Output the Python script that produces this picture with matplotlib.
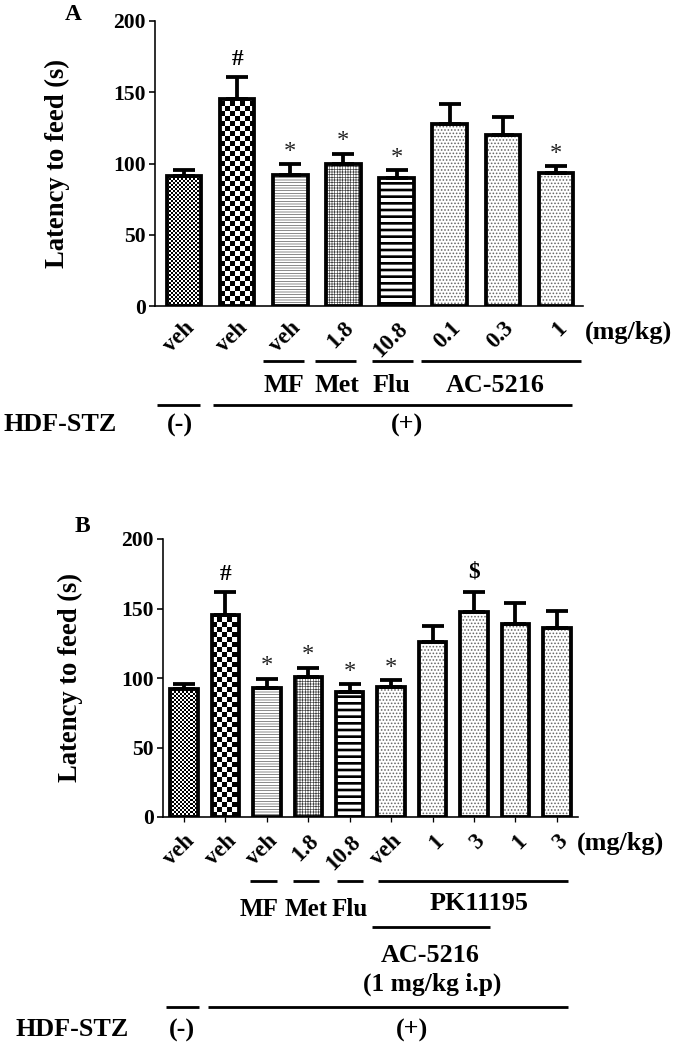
import numpy as np
import matplotlib
matplotlib.use("Agg")
import matplotlib.pyplot as plt
import matplotlib.transforms as mtransforms

# ----------------------------------------------------------
# figure is laid out in pixels (675 x 1043 at 80 dpi)
# ----------------------------------------------------------
DPI = 80
W, H = 675, 1043
PT = 72 / DPI          # points per pixel

plt.rcParams["font.family"] = ["Liberation Serif", "DejaVu Serif"]
plt.rcParams["font.weight"] = "bold"
plt.rcParams["axes.labelweight"] = "bold"

# ----------------------------------------------------------
# DATA
# ----------------------------------------------------------
labels_A = ["veh", "veh", "veh", "1.8", "10.8", "0.1", "0.3", "1"]
mean_A = [91, 145, 92, 100, 90, 128, 120, 93]
sem_A = [4.3, 16, 7.5, 6.8, 5.4, 14, 12.6, 5]
marks_A = ["", "#", "*", "*", "*", "", "", "*"]
fill_A = ["fine", "checker", "mf", "met", "flu", "dots", "dots", "dots"]

labels_B = ["veh", "veh", "veh", "1.8", "10.8", "veh", "1", "3", "1", "3"]
mean_B = [92, 145, 93, 101, 90, 93.5, 126, 147.5, 139, 136]
sem_B = [3.8, 17, 6.5, 6.3, 5.5, 5, 11.5, 14.5, 15, 12]
marks_B = ["", "#", "*", "*", "*", "*", "", "$", "", ""]
fill_B = ["fine", "checker", "mf", "met", "flu", "dots", "dots", "dots", "dots", "dots"]

# hatch pattern, hatch colour, hatch linewidth
HATCH = {
    "mf":   ("-----", "#555555", 0.6),
    "met":  ("+++++", "#444444", 0.6),
    "flu":  ("--", "black", 2.4),
    "dots": ("....", "#666666", 0.9),
}
CHECKER_PX = {"fine": 2, "checker": 5}
EDGE = 3.8 * PT


def px2fig_y(py):
    return 1 - py / H


def checker_fill(ax, patch, cell):
    x0, y0 = patch.get_x(), patch.get_y()
    w, h = patch.get_width(), patch.get_height()
    p0 = ax.transData.transform((x0, y0))
    p1 = ax.transData.transform((x0 + w, y0 + h))
    nx = int(np.ceil((p1[0] - p0[0]) / cell))
    ny = int(np.ceil((p1[1] - p0[1]) / cell))
    arr = (np.add.outer(np.arange(ny), np.arange(nx)) % 2).astype(float)
    q = ax.transData.inverted().transform((p0[0] + nx * cell, p0[1] + ny * cell))
    im = ax.imshow(arr, cmap="gray", vmin=0, vmax=1, origin="lower",
                   extent=(x0, q[0], y0, q[1]), interpolation="nearest",
                   aspect="auto", zorder=1.5)
    im.set_clip_path(patch)


def draw_panel(ax, means, sems, kinds, marks, labels, width, xlim, ticks):
    x = np.arange(len(means))
    ax.set_xlim(*xlim)
    ax.set_ylim(0, 200)

    # fills
    for xi, hi, kind in zip(x, means, kinds):
        if kind in CHECKER_PX:
            b = ax.bar(xi, hi, width, color="white", linewidth=0, zorder=1)
            checker_fill(ax, b[0], CHECKER_PX[kind])
        else:
            pat, col, hlw = HATCH[kind]
            with plt.rc_context({"hatch.linewidth": hlw}):
                b = ax.bar(xi, hi, width, color="white", edgecolor=col,
                           linewidth=0, hatch=pat, zorder=1)
            try:
                b[0].set_hatch_linewidth(hlw)
            except AttributeError:
                pass

    # outlines + error bars
    ax.bar(x, means, width, fill=False, edgecolor="black",
           linewidth=EDGE, zorder=3)
    ax.errorbar(x, means, yerr=[np.zeros(len(sems)), sems], fmt="none",
                ecolor="black", elinewidth=EDGE, capsize=11 * PT,
                capthick=EDGE, zorder=2)

    # significance marks
    for xi, m, s, mk in zip(x, means, sems, marks):
        if not mk:
            continue
        if mk == "*":
            ax.annotate(mk, (xi, m + s), xytext=(0, 13 * PT),
                        textcoords="offset points", ha="center", va="center",
                        fontsize=22, fontweight="normal", color="#222222")
        else:
            off = 17 if mk == "#" else 20
            ax.annotate(mk, (xi, m + s), xytext=(0, off * PT),
                        textcoords="offset points", ha="center", va="center",
                        fontsize=21)

    ax.set_yticks([0, 50, 100, 150, 200])
    ax.tick_params(axis="y", labelsize=19.5, width=1.6 * PT,
                   length=6 * PT, pad=3 * PT)
    ax.set_xticks(x)
    ax.set_xticklabels(labels, rotation=45, ha="right", va="top",
                       rotation_mode="anchor", fontsize=20.5)
    if ticks:
        ax.tick_params(axis="x", length=5 * PT, width=1.3 * PT, pad=9 * PT)
    else:
        ax.tick_params(axis="x", length=0, pad=12 * PT)
    for sp in ["top", "right"]:
        ax.spines[sp].set_visible(False)
    for sp in ["left", "bottom"]:
        ax.spines[sp].set_linewidth(1.6 * PT)
    ax.set_ylabel("Latency to feed (s)", fontsize=24)


def hline(ax, x0, x1, py):
    tr = mtransforms.blended_transform_factory(ax.transData, ax.figure.transFigure)
    ax.plot([x0, x1], [px2fig_y(py)] * 2, color="black", lw=2.8 * PT,
            transform=tr, clip_on=False, solid_capstyle="butt")


def label(ax, x, py, s, size=23.5, ha="center"):
    tr = mtransforms.blended_transform_factory(ax.transData, ax.figure.transFigure)
    ax.text(x, px2fig_y(py), s, transform=tr, ha=ha, va="center",
            fontsize=size, clip_on=False)


fig = plt.figure(figsize=(W / DPI, H / DPI), dpi=DPI)

# ---------------- panel A ----------------
axA = fig.add_axes([155 / W, px2fig_y(306), (583 - 155) / W, 285 / H])
draw_panel(axA, mean_A, sem_A, fill_A, marks_A, labels_A, 0.65,
           (-0.546, 7.51), ticks=False)
axA.yaxis.set_label_coords(-0.199, 0.5)
label(axA, 7.55, 332, "(mg/kg)", ha="left")
for name, a, b, c in [("MF", 1.49, 2.26, 1.88), ("Met", 2.47, 3.24, 2.88),
                      ("Flu", 3.54, 4.31, 3.90), ("AC-5216", 4.46, 7.47, 5.85)]:
    hline(axA, a, b, 361)
    label(axA, c, 385, name)
hline(axA, -0.51, 0.30, 405)
hline(axA, 0.55, 7.30, 405)
label(axA, -0.08, 425, "(-)")
label(axA, 4.20, 425, "(+)")
fig.text(3 / W, px2fig_y(425), "HDF-STZ", ha="left", va="center", fontsize=23.5)
fig.text(73 / W, px2fig_y(14), "A", ha="center", va="center", fontsize=21)

# ---------------- panel B ----------------
axB = fig.add_axes([163 / W, px2fig_y(817), (578 - 163) / W, 278 / H])
draw_panel(axB, mean_B, sem_B, fill_B, marks_B, labels_B, 0.66,
           (-0.507, 9.51), ticks=True)
axB.yaxis.set_label_coords(-0.193, 0.5)
label(axB, 9.48, 843, "(mg/kg)", ha="left")
for a, b in [(1.59, 2.24), (2.63, 3.26), (3.69, 4.32), (4.68, 9.27)]:
    hline(axB, a, b, 881)
label(axB, 1.81, 909, "MF", size=22.5)
label(axB, 2.94, 909, "Met", size=22.5)
label(axB, 4.00, 909, "Flu", size=22.5)
label(axB, 7.12, 903, "PK11195")
hline(axB, 4.54, 7.38, 927)
label(axB, 5.94, 955, "AC-5216")
label(axB, 5.98, 984, "(1 mg/kg i.p)", size=23)
hline(axB, -0.43, 0.36, 1007)
hline(axB, 0.58, 9.27, 1007)
label(axB, -0.05, 1030, "(-)")
label(axB, 5.50, 1030, "(+)")
fig.text(15 / W, px2fig_y(1030), "HDF-STZ", ha="left", va="center", fontsize=23.5)
fig.text(82 / W, px2fig_y(527), "B", ha="center", va="center", fontsize=21)

fig.savefig("out.png", dpi=DPI)
